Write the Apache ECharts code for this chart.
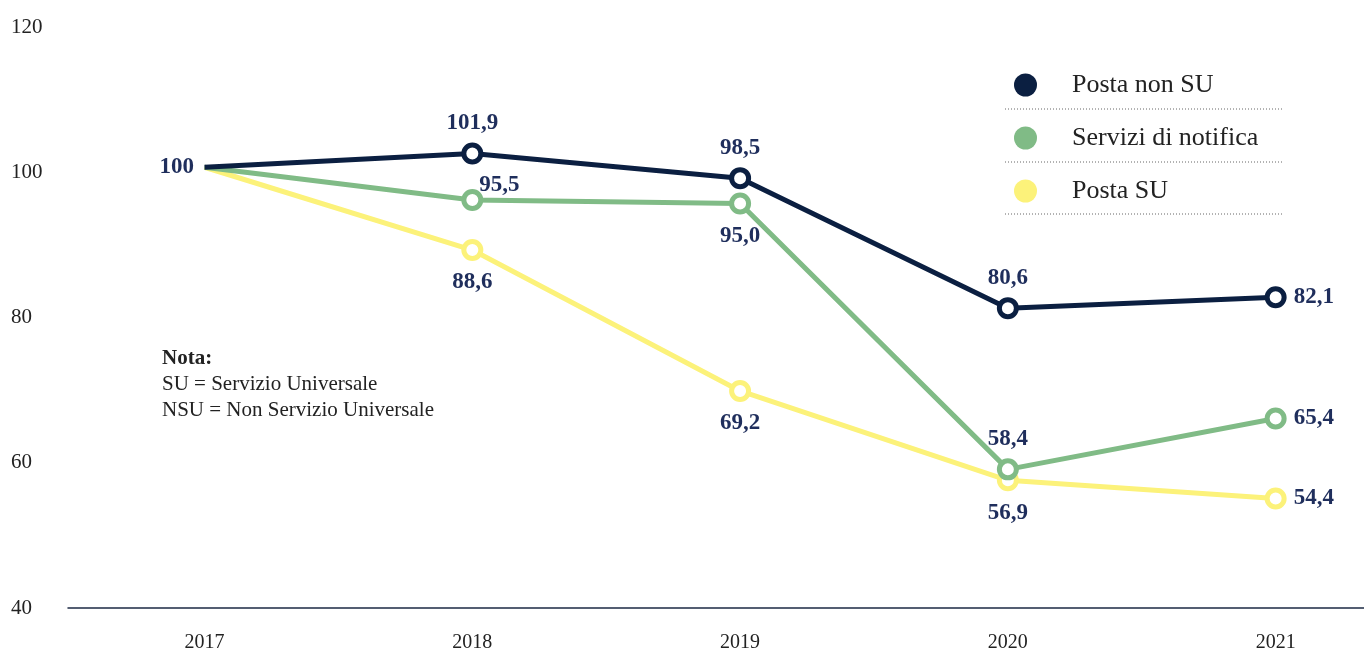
<!DOCTYPE html>
<html>
<head>
<meta charset="utf-8">
<script src="https://cdn.jsdelivr.net/npm/echarts@6/dist/echarts.min.js"></script>
<style>
  html, body { margin: 0; padding: 0; background: #fff; }
  #chart { width: 1364px; height: 655px; }
</style>
</head>
<body>
<div id="chart"></div>
<script>
// data
const years = [2017, 2018, 2019, 2020, 2021]
const postaNonSU = [100, 101.9, 98.5, 80.6, 82.1]
const serviziNotifica = [100, 95.5, 95.0, 58.4, 65.4]
const postaSU = [100, 88.6, 69.2, 56.9, 54.4]

const FONT = '"Liberation Serif", "DejaVu Serif", serif'
const LABEL_COLOR = '#1f2e5c'
const NAVY = '#0b1f41'
const GREEN = '#80bb86'
const YELLOW = '#fcf27a'

// label placement per point (null = no label)
const navyPos = ['left', 'top', 'top', 'top', 'right']
const greenPos = [null, 'topRight', 'bottom', 'top', 'right']
const yellowPos = [null, 'bottom', 'bottom', 'bottom', 'right']

function fmt(v) {
  return v === 100 ? '100' : v.toFixed(1).replace('.', ',')
}

function labelFor(pos) {
  if (!pos) return { show: false }
  const base = {
    show: true,
    fontFamily: FONT,
    fontWeight: 'bold',
    fontSize: 23,
    color: LABEL_COLOR
  }
  if (pos === 'top') return Object.assign(base, { position: 'top', distance: 8 })
  if (pos === 'bottom') return Object.assign(base, { position: 'bottom', distance: 10 })
  if (pos === 'right') return Object.assign(base, { position: 'right', distance: 7 })
  if (pos === 'left') return Object.assign(base, { position: 'left', distance: 10 })
  if (pos === 'topRight') return Object.assign(base, { position: 'top', distance: 0, offset: [27, 8] })
  return base
}

function buildSeries(name, values, color, positions) {
  return {
    name: name,
    type: 'line',
    symbol: 'circle',
    symbolSize: 17,
    lineStyle: { color: color, width: 5 },
    itemStyle: { color: '#fff', borderColor: color, borderWidth: 5 },
    data: values.map((v, i) => {
      const item = {
        value: [years[i], v],
        label: Object.assign(labelFor(positions[i]), { formatter: () => fmt(v) })
      }
      // first point (base year) has no marker, only the line start
      if (i === 0) {
        item.symbolSize = 1
        item.itemStyle = { color: 'rgba(0,0,0,0)', borderWidth: 0 }
      }
      return item
    }),
    z: 3
  }
}

const chart = echarts.init(document.getElementById('chart'))

chart.setOption({
  animation: false,
  grid: { left: 68, right: 0, top: 22, bottom: 52 },
  xAxis: {
    type: 'value',
    min: 2016.49,
    max: 2021.33,
    offset: 5,
    splitLine: { show: false },
    axisLine: { show: true, lineStyle: { color: '#1c2a44', width: 1.5 } },
    axisTick: { show: false },
    axisLabel: {
      customValues: years,
      formatter: (v) => String(v),
      fontFamily: FONT,
      fontSize: 20,
      color: '#222',
      margin: 25
    }
  },
  yAxis: {
    type: 'value',
    min: 40,
    max: 120,
    interval: 20,
    splitLine: { show: false },
    axisLine: { show: false },
    axisTick: { show: false },
    axisLabel: {
      fontFamily: FONT,
      fontSize: 21,
      color: '#222',
      align: 'left',
      verticalAlign: 'top',
      lineHeight: 10,
      margin: 57
    }
  },
  legend: {
    orient: 'vertical',
    left: 1009,
    top: 67,
    icon: 'circle',
    itemWidth: 23,
    itemHeight: 23,
    itemGap: 27,
    itemStyle: { borderWidth: 0 },
    textStyle: {
      fontFamily: FONT,
      fontSize: 26,
      color: '#222',
      padding: [0, 0, 0, 30]
    },
    data: [
      { name: 'Posta non SU', itemStyle: { color: NAVY } },
      { name: 'Servizi di notifica', itemStyle: { color: GREEN } },
      { name: 'Posta SU', itemStyle: { color: YELLOW } }
    ]
  },
  graphic: [
    { type: 'line', shape: { x1: 1005, y1: 109, x2: 1283, y2: 109 }, style: { stroke: '#666', lineWidth: 1, lineDash: [1, 2] } },
    { type: 'line', shape: { x1: 1005, y1: 162, x2: 1283, y2: 162 }, style: { stroke: '#666', lineWidth: 1, lineDash: [1, 2] } },
    { type: 'line', shape: { x1: 1005, y1: 214, x2: 1283, y2: 214 }, style: { stroke: '#666', lineWidth: 1, lineDash: [1, 2] } },
    { type: 'text', left: 162, top: 348, style: { text: 'Nota:', font: 'bold 21px ' + FONT, fill: '#222' } },
    { type: 'text', left: 162, top: 374, style: { text: 'SU = Servizio Universale', font: '21px ' + FONT, fill: '#222' } },
    { type: 'text', left: 162, top: 400, style: { text: 'NSU = Non Servizio Universale', font: '21px ' + FONT, fill: '#222' } }
  ],
  series: [
    buildSeries('Posta SU', postaSU, YELLOW, yellowPos),
    buildSeries('Servizi di notifica', serviziNotifica, GREEN, greenPos),
    buildSeries('Posta non SU', postaNonSU, NAVY, navyPos)
  ]
})
</script>
</body>
</html>
